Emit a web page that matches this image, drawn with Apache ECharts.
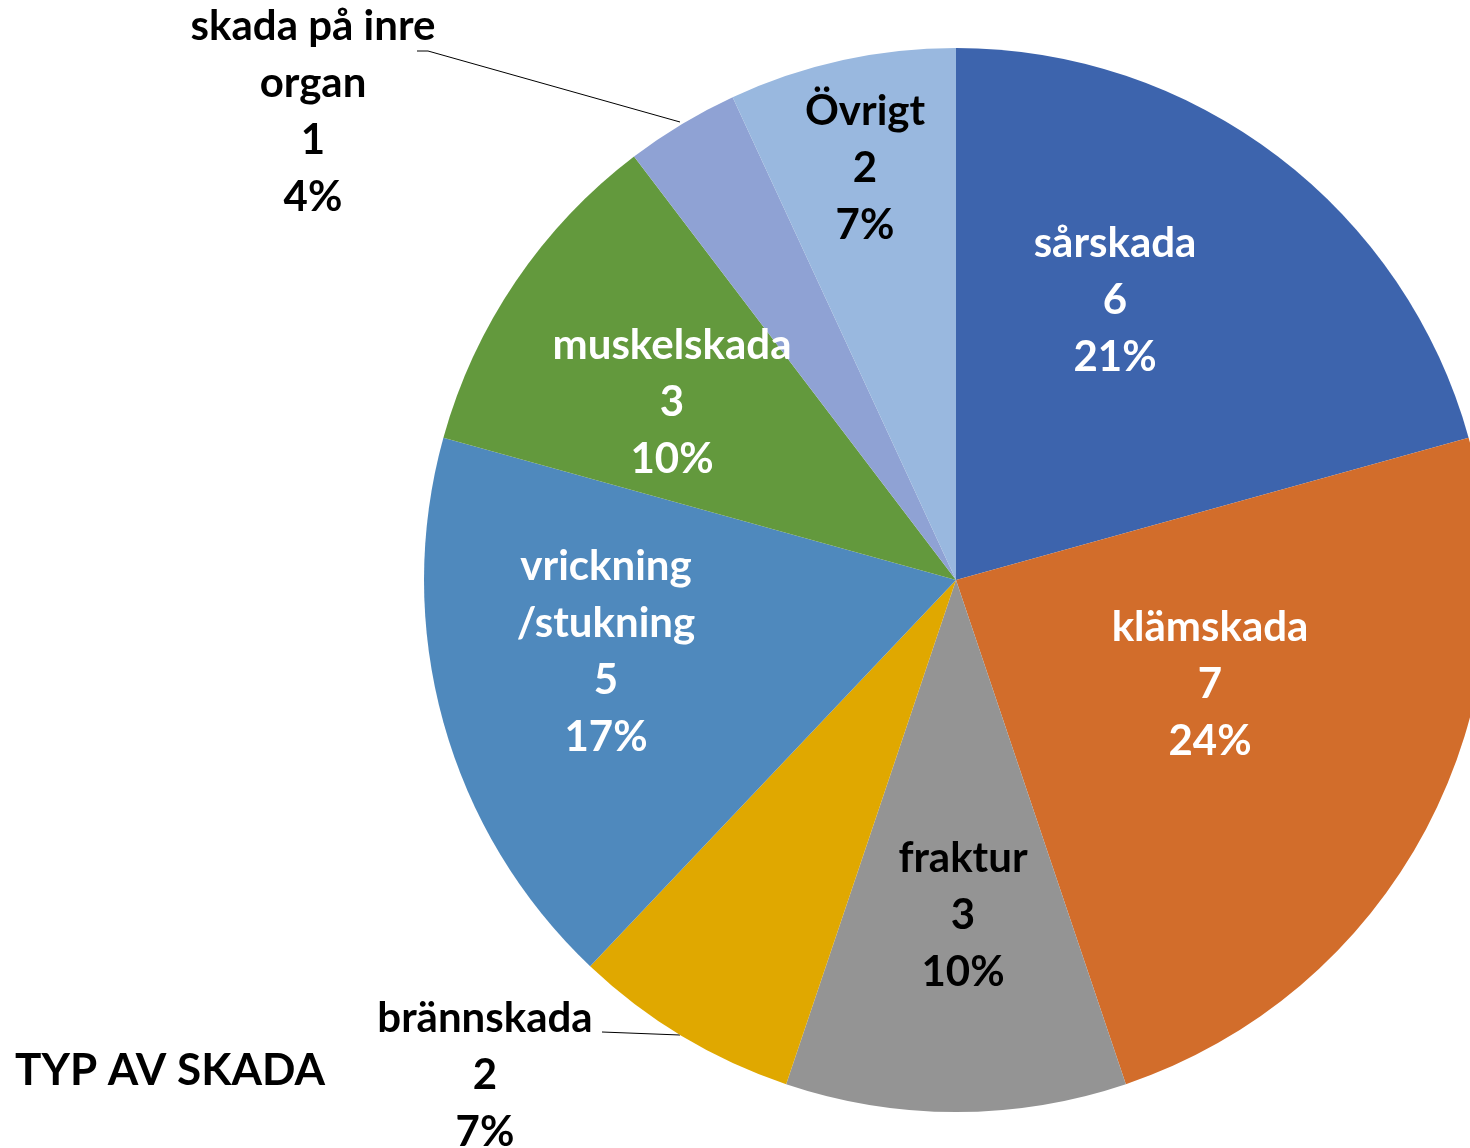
<!DOCTYPE html>
<html>
<head>
<meta charset="utf-8">
<title>Typ av skada</title>
<script src="https://cdn.jsdelivr.net/npm/echarts@6/dist/echarts.min.js"></script>
<style>
  html, body { margin: 0; padding: 0; background: #fff; }
  #chart { width: 1470px; height: 1148px; }
</style>
</head>
<body>
<div id="chart"></div>
<script>
const categories = ['sårskada', 'klämskada', 'fraktur', 'brännskada', 'vrickning\n/stukning', 'muskelskada', 'skada på inre\norgan', 'Övrigt'];
const counts = [6, 7, 3, 2, 5, 3, 1, 2];
const percentLabels = ['21%', '24%', '10%', '7%', '17%', '10%', '4%', '7%'];

const colors = ['#3D64AD', '#D26D2B', '#949494', '#E0A800', '#4F89BD', '#63993D', '#8FA2D4', '#99B8DF'];
const labelColors = ['#fff', '#fff', '#000', '#000', '#fff', '#fff', '#000', '#000'];
// where Excel put each label (text block centre)
const labelPos = [[1115, 300], [1210, 684], [963, 915], [485, 1075], [606, 652], [672, 402], [313, 112], [865, 168]];
const leaderLines = {
  3: [[680, 1035], [602, 1032], [602, 1032]],
  6: [[680, 122], [428, 51], [417, 51]]
};

const FONT = 'Lato, "Open Sans", sans-serif';
const chart = echarts.init(document.getElementById('chart'));

chart.setOption({
  animation: false,
  graphic: [{
    type: 'text',
    left: 15,
    top: 1049,
    style: { text: 'TYP AV SKADA', font: 'bold 44px ' + FONT, fill: '#000' }
  }],
  series: [{
    type: 'pie',
    center: [956, 580],
    radius: 532,
    startAngle: 90,
    clockwise: true,
    avoidLabelOverlap: false,
    label: {
      show: true,
      position: 'inside',
      fontFamily: FONT,
      fontWeight: 'bold',
      fontSize: 42,
      lineHeight: 57,
      align: 'center',
      verticalAlign: 'middle',
      formatter: (p) => p.name + '\n' + p.value + '\n' + percentLabels[p.dataIndex]
    },
    labelLine: { show: true, lineStyle: { color: '#000', width: 1 } },
    labelLayout: (params) => {
      const i = params.dataIndex;
      const pos = labelPos[i];
      const out = { x: pos[0], y: pos[1], align: 'center', verticalAlign: 'middle' };
      if (leaderLines[i]) out.labelLinePoints = leaderLines[i];
      return out;
    },
    data: categories.map((name, i) => ({
      name: name,
      value: counts[i],
      itemStyle: { color: colors[i] },
      label: { color: labelColors[i], position: leaderLines[i] ? 'outside' : 'inside' },
      labelLine: { show: !!leaderLines[i] }
    }))
  }]
});
</script>
</body>
</html>
